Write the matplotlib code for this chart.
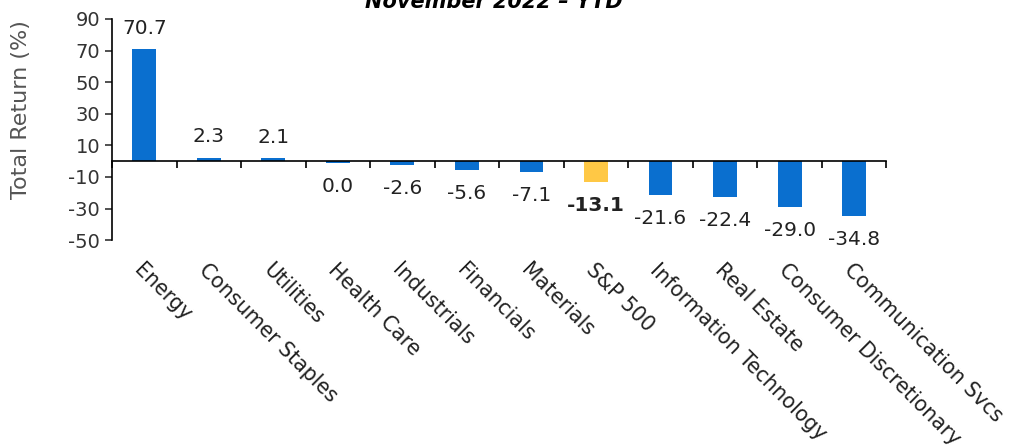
import matplotlib
matplotlib.use("Agg")
import matplotlib.pyplot as plt
import numpy as np

# sector returns, November 2022 YTD
sectors = ["Energy", "Consumer Staples", "Utilities", "Health Care", "Industrials",
           "Financials", "Materials", "S&P 500", "Information Technology",
           "Real Estate", "Consumer Discretionary", "Communication Svcs"]
returns = [70.7, 2.3, 2.1, -0.9, -2.6, -5.6, -7.1, -13.1, -21.6, -22.4, -29.0, -34.8]
value_labels = ["70.7", "2.3", "2.1", "0.0", "-2.6", "-5.6", "-7.1", "-13.1",
                "-21.6", "-22.4", "-29.0", "-34.8"]
yticks = [90, 70, 50, 30, 10, -10, -30, -50]

blue = "#0A6FCF"
gold = "#FFC845"
plt.rcParams['font.family'] = ['DejaVu Sans']
plt.rcParams['axes.unicode_minus'] = False

fig = plt.figure(figsize=(10.23, 4.48), dpi=100)
ax = fig.add_axes([0.1095, 0.464, 0.757, 0.4936])

x = np.arange(len(sectors))
colors = [gold if s == "S&P 500" else blue for s in sectors]
ax.bar(x, returns, width=0.37, color=colors, zorder=2)

ax.set_xlim(-0.5, len(sectors) - 0.5)
ax.set_ylim(-50, 90)
ax.set_yticks(yticks)
ax.tick_params(axis='y', labelsize=14, length=5, width=1.2, colors='#333333')

# zero line with category boundary ticks, labels pushed below the plot
ax.spines['top'].set_visible(False)
ax.spines['right'].set_visible(False)
ax.spines['bottom'].set_position(('data', 0))
ax.spines['bottom'].set_linewidth(1.2)
ax.spines['left'].set_linewidth(1.2)
ax.set_xticks(x)
ax.set_xticks(np.arange(len(sectors) + 1) - 0.5, minor=True)
ax.tick_params(axis='x', which='major', length=0, pad=71)
ax.tick_params(axis='x', which='minor', length=5, width=1.2)
ax.set_xticklabels(sectors, rotation=-45, ha='left', va='top',
                   rotation_mode='anchor', fontsize=14.8, color='#222222')

for xi, v, t, s in zip(x, returns, value_labels, sectors):
    off = 15 if v > 0 else -17
    ax.annotate(t, (xi, v), xytext=(0, off), textcoords='offset points',
                ha='center', va='center', fontsize=14.5, color='#222222',
                fontweight='bold' if s == "S&P 500" else 'normal')

ax.set_ylabel("Total Return (%)", fontsize=16, color='#555555')
ax.yaxis.set_label_coords(-0.104, 0.59)

fig.text(0.483, 0.995, "November 2022 \u2013 YTD", ha='center', va='center',
         fontsize=15, fontweight='bold', fontstyle='italic')

fig.savefig("out.png", dpi=100)
